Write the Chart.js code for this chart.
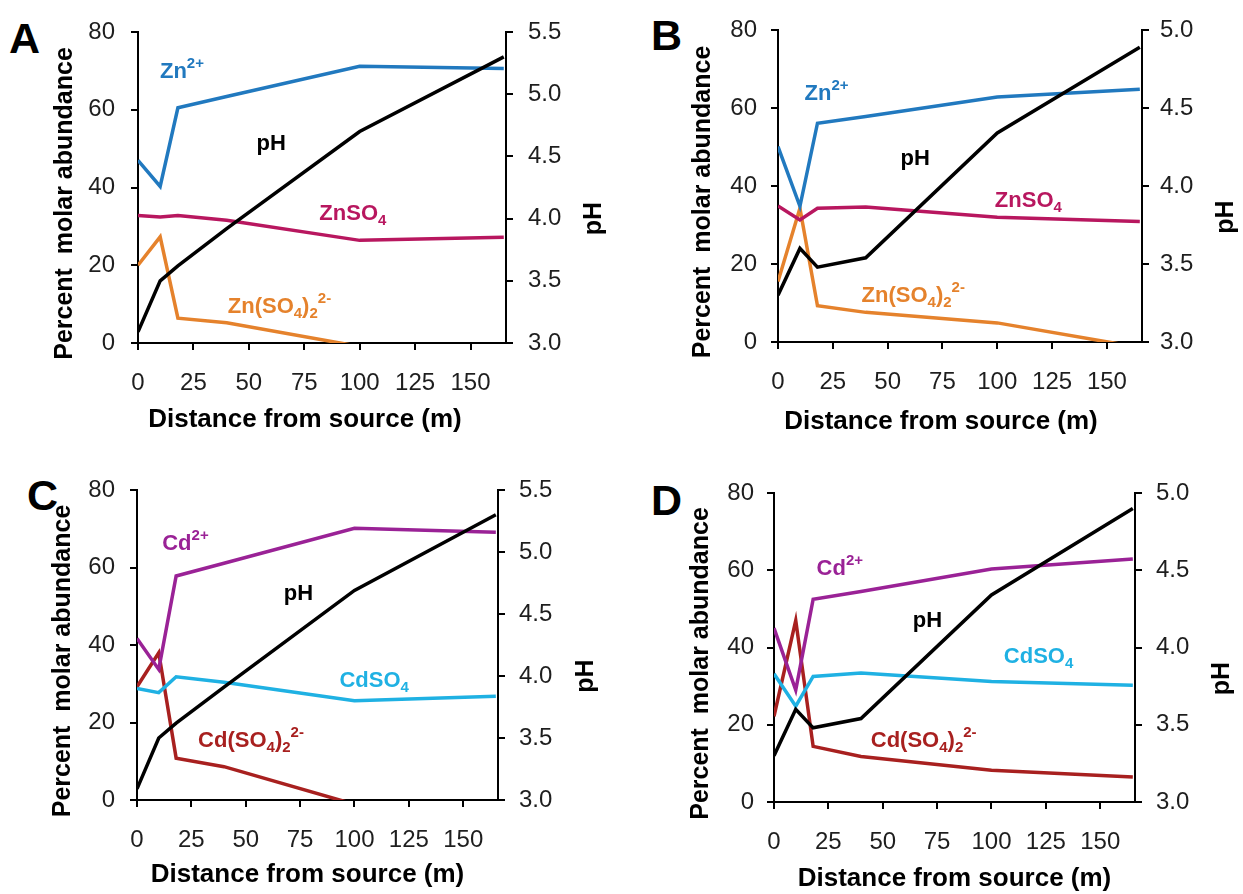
<!DOCTYPE html>
<html lang="en">
<head>
<meta charset="UTF-8">
<title>Zn and Cd speciation along the stream</title>
<script src="https://cdn.jsdelivr.net/npm/chart.js"></script>
<style>
    body {
        margin: 0;
        background: #fff;
        width: 1243px;
        height: 894px;
        position: relative;
        overflow: hidden;
        font-family: 'Liberation Sans', Arial, sans-serif;
    }
    .panel { position: absolute; }
    .letter {
        position: absolute;
        font-size: 43px;
        font-weight: bold;
        line-height: 1;
        color: #000;
    }
</style>
</head>
<body>
<div class="letter" style="left:9px; top:17px;">A</div>
<div class="letter" style="left:651px; top:14px;">B</div>
<div class="letter" style="left:27px; top:474px;">C</div>
<div class="letter" style="left:651px; top:479px;">D</div>

<canvas id="chartA" class="panel" width="620" height="447" style="left:0; top:0;"></canvas>
<canvas id="chartB" class="panel" width="623" height="447" style="left:620px; top:0;"></canvas>
<canvas id="chartC" class="panel" width="620" height="447" style="left:0; top:447px;"></canvas>
<canvas id="chartD" class="panel" width="623" height="447" style="left:620px; top:447px;"></canvas>

<script>
    // sampling points along the stream (m)
    const distance = [0, 10, 18, 40, 100, 165];

    // tick labels
    const distTicks = [0, 25, 50, 75, 100, 125, 150];
    const pctTicks = [0, 20, 40, 60, 80];
    const phTicksHigh = [3.0, 3.5, 4.0, 4.5, 5.0, 5.5];
    const phTicksLow = [3.0, 3.5, 4.0, 4.5, 5.0];

    // panel A - zinc
    const znFreeA = [47.0, 40.3, 60.5, 63.4, 71.2, 70.6];
    const znSO4A = [32.8, 32.4, 32.8, 31.6, 26.4, 27.2];
    const znDiSO4A = [20.0, 27.3, 6.4, 5.2, -0.9, null];
    const phA = [3.09, 3.50, 3.62, 3.92, 4.70, 5.30];

    // panel B - zinc
    const znFreeB = [50.1, 34.8, 56.1, 57.8, 62.8, 64.8];
    const znSO4B = [34.9, 31.3, 34.3, 34.6, 32.0, 30.9];
    const znDiSO4B = [15.5, 34.3, 9.3, 7.6, 4.9, -1.4];
    const phB = [3.30, 3.60, 3.48, 3.54, 4.34, 4.89];

    // panel C - cadmium
    const cdFreeC = [41.7, 33.7, 57.8, 61.1, 70.1, 69.1];
    const cdSO4C = [28.8, 27.7, 31.8, 30.4, 25.6, 26.8];
    const cdDiSO4C = [29.2, 38.0, 10.8, 8.6, -1.1, null];
    const phC = [3.09, 3.50, 3.62, 3.91, 4.69, 5.30];

    // panel D - cadmium
    const cdFreeD = [45.0, 29.0, 52.5, 54.5, 60.3, 62.9];
    const cdSO4D = [33.2, 24.8, 32.5, 33.4, 31.2, 30.2];
    const cdDiSO4D = [22.2, 47.0, 14.4, 11.8, 8.2, 6.5];
    const phD = [3.30, 3.60, 3.48, 3.54, 4.34, 4.90];

    const FONT = "'Liberation Sans', Arial, sans-serif";
    const ZN_FREE = '#2179bf';
    const ZN_SO4 = '#b8175f';
    const ZN_DI = '#e5822c';
    const CD_FREE = '#9a2296';
    const CD_SO4 = '#1fb1e3';
    const CD_DI = '#a8201f';

    const toPoints = vals => distance.map((d, i) => ({ x: d, y: vals[i] }));

    // species labels drawn next to the curves, anchored in data units
    const speciesLabels = {
        id: 'speciesLabels',
        afterDatasetsDraw(chart, args, opts) {
            const ctx = chart.ctx;
            const xs = chart.scales.x, ys = chart.scales.y;
            ctx.save();
            ctx.textBaseline = 'alphabetic';
            opts.items.forEach(item => {
                let px = xs.getPixelForValue(item.x);
                const py = ys.getPixelForValue(item.y);
                ctx.fillStyle = item.color;
                item.parts.forEach(([txt, kind]) => {
                    const size = kind ? 15 : 22;
                    const dy = kind === 'sup' ? -10 : kind === 'sub' ? 5 : 0;
                    ctx.font = `bold ${size}px ${FONT}`;
                    ctx.fillText(txt, px, py + dy);
                    px += ctx.measureText(txt).width;
                });
            });
            ctx.restore();
        }
    };

    // axis titles; both y titles read bottom-to-top
    const axisTitles = {
        id: 'axisTitles',
        afterDraw(chart, args, opts) {
            const ctx = chart.ctx;
            const area = chart.chartArea;
            const midY = (area.top + area.bottom) / 2;
            const midX = (area.left + area.right) / 2;
            ctx.save();
            ctx.fillStyle = '#000';
            ctx.textAlign = 'center';
            ctx.textBaseline = 'middle';
            ctx.font = `bold 25px ${FONT}`;
            [[opts.leftText, opts.leftX, midY + 16], [opts.rightText, opts.rightX, midY + 31]].forEach(([t, x, y]) => {
                ctx.save();
                ctx.translate(x, y);
                ctx.rotate(-Math.PI / 2);
                ctx.fillText(t, 0, 0);
                ctx.restore();
            });
            ctx.font = `bold 26px ${FONT}`;
            ctx.fillText(opts.bottomText, midX + opts.bottomDx, opts.bottomY);
            ctx.restore();
        }
    };

    function makeChart(p) {
        const datasets = [{
            label: 'pH', data: toPoints(p.ph), yAxisID: 'y1',
            borderColor: '#000', borderWidth: 3.5, pointRadius: 0, clip: 0
        }];
        p.species.forEach(s => datasets.push({
            label: s.label, data: toPoints(s.data), yAxisID: 'y',
            borderColor: s.color, borderWidth: 3.5, pointRadius: 0, clip: 0
        }));

        const axisLine = { display: true, color: '#000', width: 2 };
        const tickMarks = { drawOnChartArea: false, drawTicks: true, tickLength: 7, color: '#000', lineWidth: 2 };
        const tickFont = { family: FONT, size: 24 };

        new Chart(document.getElementById(p.canvas), {
            type: 'line',
            data: { datasets },
            options: {
                responsive: false,
                animation: false,
                events: [],
                layout: { padding: { top: p.box.top, left: 0, right: 0, bottom: 0 } },
                plugins: {
                    legend: { display: false },
                    tooltip: { enabled: false },
                    speciesLabels: { items: p.labels },
                    axisTitles: {
                        leftText: 'Percent  molar abundance', leftX: p.titles.left,
                        rightText: 'pH', rightX: p.titles.right,
                        bottomText: 'Distance from source (m)', bottomY: p.titles.bottom, bottomDx: p.titles.dx
                    }
                },
                scales: {
                    x: {
                        type: 'linear', min: 0, max: 166,
                        border: axisLine, grid: tickMarks,
                        afterBuildTicks: s => { s.ticks = distTicks.map(v => ({ value: v })); },
                        afterFit: s => { s.height = p.box.bottom; },
                        ticks: { font: tickFont, color: '#1e1e1e', padding: 19, maxRotation: 0 }
                    },
                    y: {
                        position: 'left', min: 0, max: 80,
                        border: axisLine, grid: tickMarks,
                        afterBuildTicks: s => { s.ticks = pctTicks.map(v => ({ value: v })); },
                        afterFit: s => { s.width = p.box.left; },
                        ticks: { font: tickFont, color: '#1e1e1e', padding: p.tickPad.left }
                    },
                    y1: {
                        position: 'right', min: 3, max: p.phTicks[p.phTicks.length - 1],
                        border: axisLine, grid: tickMarks,
                        afterBuildTicks: s => { s.ticks = p.phTicks.map(v => ({ value: v })); },
                        afterFit: s => { s.width = p.box.right; },
                        ticks: {
                            font: tickFont, color: '#1e1e1e', padding: p.tickPad.right,
                            callback: v => Number(v).toFixed(1)
                        }
                    }
                }
            },
            plugins: [speciesLabels, axisTitles]
        });
    }

    makeChart({
        canvas: 'chartA', ph: phA, phTicks: phTicksHigh,
        species: [
            { label: 'Zn2+', data: znFreeA, color: ZN_FREE },
            { label: 'ZnSO4', data: znSO4A, color: ZN_SO4 },
            { label: 'Zn(SO4)2 2-', data: znDiSO4A, color: ZN_DI }
        ],
        labels: [
            { parts: [['Zn'], ['2+', 'sup']], x: 9.9, y: 68.2, color: ZN_FREE },
            { parts: [['pH']], x: 53.5, y: 49.6, color: '#000' },
            { parts: [['ZnSO'], ['4', 'sub']], x: 81.8, y: 31.6, color: ZN_SO4 },
            { parts: [['Zn(SO'], ['4', 'sub'], [')'], ['2', 'sub'], ['2-', 'sup']], x: 40.5, y: 7.7, color: ZN_DI }
        ],
        box: { top: 32, left: 138, right: 114, bottom: 104 },
        tickPad: { left: 16, right: 15 },
        titles: { left: 65, right: 594, bottom: 420, dx: -17 }
    });

    makeChart({
        canvas: 'chartB', ph: phB, phTicks: phTicksLow,
        species: [
            { label: 'Zn2+', data: znFreeB, color: ZN_FREE },
            { label: 'ZnSO4', data: znSO4B, color: ZN_SO4 },
            { label: 'Zn(SO4)2 2-', data: znDiSO4B, color: ZN_DI }
        ],
        labels: [
            { parts: [['Zn'], ['2+', 'sup']], x: 12.1, y: 62.1, color: ZN_FREE },
            { parts: [['pH']], x: 55.9, y: 45.4, color: '#000' },
            { parts: [['ZnSO'], ['4', 'sub']], x: 98.9, y: 34.6, color: ZN_SO4 },
            { parts: [['Zn(SO'], ['4', 'sub'], [')'], ['2', 'sub'], ['2-', 'sup']], x: 38.1, y: 10.3, color: ZN_DI }
        ],
        box: { top: 30, left: 158, right: 101, bottom: 105 },
        tickPad: { left: 14, right: 11 },
        titles: { left: 83, right: 606, bottom: 422, dx: -19 }
    });

    makeChart({
        canvas: 'chartC', ph: phC, phTicks: phTicksHigh,
        species: [
            { label: 'Cd2+', data: cdFreeC, color: CD_FREE },
            { label: 'CdSO4', data: cdSO4C, color: CD_SO4 },
            { label: 'Cd(SO4)2 2-', data: cdDiSO4C, color: CD_DI }
        ],
        labels: [
            { parts: [['Cd'], ['2+', 'sup']], x: 11.6, y: 64.5, color: CD_FREE },
            { parts: [['pH']], x: 67.5, y: 51.6, color: '#000' },
            { parts: [['CdSO'], ['4', 'sub']], x: 93.1, y: 29.2, color: CD_SO4 },
            { parts: [['Cd(SO'], ['4', 'sub'], [')'], ['2', 'sub'], ['2-', 'sup']], x: 28.1, y: 13.7, color: CD_DI }
        ],
        box: { top: 43, left: 137, right: 122, bottom: 94 },
        tickPad: { left: 15, right: 14 },
        titles: { left: 63, right: 586, bottom: 428, dx: -10 }
    });

    makeChart({
        canvas: 'chartD', ph: phD, phTicks: phTicksLow,
        species: [
            { label: 'Cd2+', data: cdFreeD, color: CD_FREE },
            { label: 'CdSO4', data: cdSO4D, color: CD_SO4 },
            { label: 'Cd(SO4)2 2-', data: cdDiSO4D, color: CD_DI }
        ],
        labels: [
            { parts: [['Cd'], ['2+', 'sup']], x: 19.6, y: 58.8, color: CD_FREE },
            { parts: [['pH']], x: 63.8, y: 45.3, color: '#000' },
            { parts: [['CdSO'], ['4', 'sub']], x: 105.7, y: 36.0, color: CD_SO4 },
            { parts: [['Cd(SO'], ['4', 'sub'], [')'], ['2', 'sub'], ['2-', 'sup']], x: 44.5, y: 14.2, color: CD_DI }
        ],
        box: { top: 46, left: 154, right: 108, bottom: 92 },
        tickPad: { left: 13, right: 14 },
        titles: { left: 81, right: 602, bottom: 432, dx: 0 }
    });
</script>
</body>
</html>
